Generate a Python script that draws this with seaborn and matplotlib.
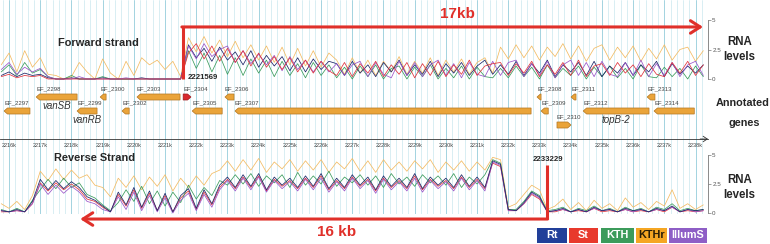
import numpy as np
import pandas as pd
import matplotlib
matplotlib.use("Agg")
import matplotlib.pyplot as plt
from matplotlib.patches import Polygon, Rectangle
import seaborn as sns

# ---- data -------------------------------------------------------------
# genomic window shown (kb) and 250 bp bins of the coverage tracks
KB0, KB1 = 2215.71, 2238.40
bins_kb = np.linspace(2215.75, 2238.25, 91)

samples = ["Rt", "St", "KTH", "KTHr", "IllumS"]
fwd_start, rev_start = 2221.569, 2233.229

# forward strand RNA levels
fwd_rt = [0.3, 0.6, 0.2, 0.5, 0.3, 0.4, 0.1, 0.0, 0.0, 0.1, 0.0, 0.0, 0.0, 0.1, 0.0, 0.0, 0.0, 0.0, 0.1, 0.0, 0.0, 0.0, 0.0, 0.0,
          2.9, 1.8, 2.6, 1.5, 2.7, 1.6, 2.3, 1.2, 2.4, 1.0, 2.0, 1.1, 1.9, 0.7, 1.8, 0.6, 1.7, 0.8, 1.5,
          1.3, 0.3, 1.5, 0.5, 1.2, 0.2, 1.4, 0.6, 1.6, 0.3, 1.2, 0.4, 1.5, 0.2, 1.3, 0.5, 1.4, 0.3, 1.1, 1.6, 0.4,
          1.2, 0.4, 1.5, 0.3, 1.3, 0.5, 1.6, 0.2, 1.2, 0.6, 1.4, 0.3, 1.5, 0.2, 1.1, 0.5, 1.4, 0.3, 1.2, 0.6, 1.5, 0.2, 1.3, 0.4, 1.1, 0.5, 1.2]
fwd_st = [0.2, 0.4, 0.1, 0.3, 0.2, 0.3, 0.0, 0.0, 0.0, 0.0, 0.0, 0.0, 0.0, 0.0, 0.0, 0.0, 0.0, 0.0, 0.0, 0.0, 0.0, 0.0, 0.0, 0.0,
          2.2, 3.0, 1.7, 2.8, 1.5, 2.6, 1.4, 2.4, 1.1, 2.2, 1.0, 1.9, 0.8, 1.8, 0.6, 1.6, 0.5, 1.5, 0.7,
          0.3, 1.4, 0.2, 1.3, 0.5, 1.5, 0.2, 1.2, 0.4, 1.4, 0.1, 1.3, 0.3, 1.5, 0.2, 1.2, 0.4, 1.6, 0.3, 1.1, 1.3,
          1.4, 0.3, 1.3, 0.5, 1.5, 0.2, 1.2, 0.4, 1.4, 0.3, 1.6, 0.2, 1.1, 1.3, 0.3, 1.4, 0.5, 1.2, 0.2, 1.3, 0.4, 0.2, 1.4, 0.5, 1.5, 0.3, 1.2]
fwd_kth = [0.6, 1.2, 0.3, 1.4, 0.5, 0.8, 0.2, 0.0, 0.0, 0.3, 0.0, 0.0, 0.0, 0.2, 0.0, 0.0, 0.0, 0.0, 0.0, 0.0, 0.0, 0.0, 0.0, 0.0,
           2.4, 0.9, 2.2, 0.6, 2.0, 0.4, 1.8, 0.3, 1.7, 0.5, 1.6, 0.2, 1.5, 0.3, 1.3, 0.1, 1.4, 0.3, 1.2,
           0.1, 1.0, 0.0, 1.1, 0.2, 1.2, 0.0, 0.9, 1.1, 0.0, 1.0, 0.2, 1.2, 0.0, 0.9, 0.1, 1.1, 0.0, 1.0, 0.2, 0.1,
           0.9, 0.1, 1.1, 0.2, 1.0, 0.0, 1.2, 0.1, 0.9, 0.3, 1.1, 0.0, 1.0, 0.2, 1.1, 0.1, 0.9, 0.0, 1.2, 0.2, 0.1, 1.0, 0.2, 0.9, 0.0, 1.1, 0.2]
fwd_kthr = [1.2, 2.2, 0.6, 2.4, 1.0, 1.8, 0.4, 0.3, 0.0, 0.2, 1.4, 0.6, 0.0, 1.7, 0.5, 0.0, 1.5, 0.3, 1.8, 1.2, 1.6, 0.8, 1.5, 0.2,
            3.5, 2.3, 3.6, 2.2, 3.3, 1.9, 3.2, 1.8, 2.9, 1.6, 2.8, 1.4, 2.7, 1.2, 2.6, 1.1, 2.4, 1.0, 2.2,
            1.6, 0.4, 1.8, 0.5, 1.6, 0.3, 1.5, 0.6, 1.9, 0.4, 1.5, 0.5, 1.8, 0.3, 1.6, 0.6, 1.7, 0.4, 1.4, 1.8, 0.5,
            2.7, 1.7, 2.9, 1.8, 2.8, 1.6, 2.7, 1.9, 3.0, 1.7, 2.8, 1.5, 2.6, 2.9, 1.6, 2.7, 1.8, 2.8, 1.5, 2.6, 1.7, 2.9, 1.6, 2.5, 2.7, 1.5, 2.4]
fwd_illums = [0.8, 1.4, 0.4, 1.0, 0.6, 0.9, 0.2, 0.0, 0.0, 0.0, 0.2, 0.0, 0.0, 0.0, 0.0, 0.0, 0.1, 0.0, 0.0, 0.0, 0.0, 0.0, 0.0, 0.0,
              2.8, 1.7, 3.0, 1.9, 2.5, 2.8, 1.4, 2.4, 1.3, 2.1, 1.2, 2.0, 0.7, 1.9, 0.8, 1.6, 0.6, 1.5, 0.6,
              1.3, 0.3, 1.2, 1.5, 0.2, 1.4, 0.4, 0.1, 1.5, 0.3, 1.4, 0.2, 1.2, 1.6, 0.3, 1.3, 0.1, 1.4, 0.4, 0.2, 1.5,
              0.3, 1.4, 1.6, 0.2, 1.3, 0.3, 1.5, 0.1, 1.2, 1.6, 0.3, 1.4, 0.2, 1.5, 0.4, 0.2, 1.4, 0.3, 1.6, 0.2, 1.3, 0.3, 1.4, 0.2, 1.2, 1.5, 0.3]

# reverse strand RNA levels
rev_rt = [0.2, 0.1, 0.3, 0.1, 1.0,
          2.9, 2.0, 2.8, 2.1, 2.7, 2.2, 1.4, 1.1, 0.6, 0.1,
          1.8, 0.7, 2.2, 0.5, 1.9, 0.2, 1.7, 0.1, 1.5, 2.1, 0.4, 2.0, 0.8, 2.4,
          3.1, 2.2, 3.3, 2.3, 3.4, 2.0, 3.1, 2.4, 3.0, 2.2, 3.2, 2.3, 3.4, 2.1, 3.0, 2.2, 3.3,
          2.4, 3.1, 2.0, 3.2, 2.3, 3.0, 2.2, 3.4, 2.1, 3.1, 2.4, 3.0, 2.2, 3.3, 2.3, 3.1, 2.2,
          4.5, 4.2, 0.3, 0.2, 0.9, 1.8, 1.4, 0.1,
          0.2, 0.4, 0.1, 0.3, 0.1, 0.5, 0.2, 0.3, 0.1, 0.4, 0.2, 0.3, 0.1, 0.4, 0.2, 0.6, 0.1, 0.3, 0.2, 0.3]
rev_st = [0.1, 0.1, 0.2, 0.1, 0.8,
          2.6, 1.9, 2.6, 2.0, 2.5, 2.0, 1.2, 1.0, 0.5, 0.1,
          1.6, 0.6, 2.0, 0.4, 1.7, 0.2, 1.5, 0.1, 1.3, 1.9, 0.3, 1.8, 0.7, 2.2,
          2.9, 2.1, 3.1, 2.2, 3.2, 1.9, 2.9, 2.3, 2.8, 2.1, 3.0, 2.2, 3.2, 2.0, 2.8, 2.1, 3.1,
          2.3, 2.9, 1.9, 3.0, 2.2, 2.8, 2.1, 3.2, 2.0, 2.9, 2.3, 2.8, 2.1, 3.1, 2.2, 2.9, 2.1,
          4.3, 4.0, 0.2, 0.2, 0.8, 1.6, 1.2, 0.1,
          0.1, 0.3, 0.1, 0.2, 0.1, 0.4, 0.1, 0.2, 0.1, 0.3, 0.1, 0.2, 0.1, 0.3, 0.1, 0.5, 0.1, 0.2, 0.1, 0.2]
rev_kth = [0.3, 0.1, 0.4, 0.1, 1.1,
           2.0, 2.9, 2.1, 3.0, 2.2, 2.6, 1.6, 1.3, 0.7, 0.2,
           0.9, 2.0, 1.0, 2.3, 0.8, 1.9, 0.6, 1.8, 0.9, 2.4, 1.2, 2.2, 1.5, 2.8,
           2.4, 3.3, 2.5, 3.4, 2.3, 3.2, 2.6, 3.3, 2.2, 3.5, 2.4, 3.2, 2.5, 3.6, 2.3, 3.1, 2.6,
           3.3, 2.4, 3.2, 2.2, 3.4, 2.5, 3.1, 2.3, 3.3, 2.6, 3.2, 2.4, 3.4, 2.2, 3.1, 2.5, 3.3,
           4.6, 4.3, 0.3, 0.3, 1.0, 1.9, 1.5, 0.2,
           0.3, 0.5, 0.1, 0.4, 0.2, 0.6, 0.2, 0.4, 0.1, 0.5, 0.2, 0.4, 0.1, 0.5, 0.3, 0.8, 0.2, 0.4, 0.2, 0.3]
rev_kthr = [0.8, 0.4, 1.0, 0.3, 1.5,
            3.6, 2.8, 3.8, 2.9, 3.7, 3.0, 3.3, 2.4, 2.2, 1.4,
            3.0, 2.2, 3.2, 2.0, 3.1, 2.3, 3.3, 1.9, 3.0, 2.2, 3.2, 2.4, 3.4, 3.7,
            4.5, 3.6, 4.6, 3.7, 4.7, 3.5, 4.4, 3.8, 4.6, 3.6, 4.5, 3.7, 4.6, 3.5, 4.4, 3.8, 4.7,
            3.6, 4.5, 3.5, 4.6, 3.7, 4.4, 3.6, 4.5, 3.8, 4.6, 3.5, 4.4, 3.7, 4.5, 3.6, 4.4, 3.7,
            4.8, 4.6, 0.5, 0.8, 1.6, 2.4, 2.0, 0.3,
            0.6, 1.2, 0.3, 0.9, 0.2, 1.1, 0.4, 0.8, 0.2, 1.3, 0.5, 0.9, 0.3, 1.0, 0.6, 2.0, 0.4, 0.8, 0.3, 0.7]
rev_illums = [0.2, 0.1, 0.2, 0.1, 0.8,
              2.5, 1.6, 2.4, 1.7, 2.3, 1.8, 1.0, 0.8, 0.3, 0.1,
              1.4, 0.3, 1.8, 0.2, 1.5, 0.1, 1.3, 0.0, 1.1, 1.7, 0.2, 1.6, 0.5, 2.0,
              2.8, 1.9, 3.0, 2.0, 3.1, 1.8, 2.8, 2.1, 2.7, 1.9, 2.9, 2.0, 3.0, 1.8, 2.7, 1.9, 3.0,
              2.1, 2.8, 1.7, 2.9, 2.0, 2.7, 1.9, 3.0, 1.8, 2.8, 2.1, 2.7, 1.9, 3.0, 2.0, 2.8, 1.9,
              4.4, 4.1, 0.2, 0.2, 0.8, 1.7, 1.3, 0.1,
              0.2, 0.3, 0.1, 0.3, 0.1, 0.4, 0.2, 0.3, 0.1, 0.3, 0.1, 0.3, 0.1, 0.3, 0.2, 0.5, 0.1, 0.3, 0.1, 0.2]

# annotated genes (kb), strand and display row
gene_names = ["EF_2298", "EF_2300", "EF_2303", "EF_2304", "EF_2306", "EF_2308", "EF_2311", "EF_2313",
              "EF_2297", "EF_2299", "EF_2302", "EF_2305", "EF_2307", "EF_2309", "EF_2312", "EF_2314",
              "EF_2310"]
gene_start = [2216.87, 2218.92, 2220.10, 2221.58, 2222.92, 2232.92, 2234.01, 2236.45,
              2215.84, 2218.18, 2219.62, 2221.87, 2223.24, 2233.05, 2234.40, 2236.67,
              2233.56]
gene_end = [2218.18, 2219.11, 2221.48, 2221.83, 2223.21, 2233.05, 2234.17, 2236.70,
            2216.67, 2218.82, 2219.85, 2222.83, 2232.73, 2233.28, 2236.51, 2237.96,
            2234.01]
gene_strand = [-1, -1, -1, 1, -1, -1, -1, -1,
               -1, -1, -1, -1, -1, -1, -1, -1,
               1]
gene_row = [1, 1, 1, 1, 1, 1, 1, 1,
            2, 2, 2, 2, 2, 2, 2, 2,
            3]
highlight_gene = "EF_2304"
gene_symbols = {"EF_2298": "vanSB", "EF_2299": "vanRB", "EF_2312": "topB-2"}

# ---- style ------------------------------------------------------------
sns.set_style("white")
plt.rcParams["font.family"] = ["Liberation Sans", "DejaVu Sans"]

line_colors = {"Rt": "#1c2466", "St": "#e0323c", "KTH": "#3a9b5c", "KTHr": "#f3bb62", "IllumS": "#9a55c8"}
box_colors = {"Rt": "#213f99", "St": "#e8392c", "KTH": "#3c9b5b", "KTHr": "#f5a623", "IllumS": "#8e5ec6"}
RED = "#e0302a"
GENE = "#eaa43a"

W, H = 770, 244
fig = plt.figure(figsize=(W / 100, H / 100), dpi=100)


def px_axes(x0, y0, x1, y1):
    return fig.add_axes([x0 / W, 1 - y1 / H, (x1 - x0) / W, (y1 - y0) / H])


def track_frame(series):
    parts = []
    for name, vals in zip(samples, series):
        assert len(vals) == len(bins_kb), name
        parts.append(pd.DataFrame({"kb": bins_kb, "level": vals, "sample": name}))
    return pd.concat(parts, ignore_index=True)


fwd_df = track_frame([fwd_rt, fwd_st, fwd_kth, fwd_kthr, fwd_illums])
rev_df = track_frame([rev_rt, rev_st, rev_kth, rev_kthr, rev_illums])

# background grid
ax_bg = px_axes(0, 0, 708, 214)
ax_bg.set_xlim(KB0, KB1)
ax_bg.set_xticks(np.arange(2216, 2239, 1.0))
ax_bg.set_xticks(np.arange(2215.8, 2238.4, 0.2), minor=True)
ax_bg.grid(True, which="minor", axis="x", color="#c9e7ef", lw=0.5)
ax_bg.grid(True, which="major", axis="x", color="#a3d3e0", lw=0.7)
ax_bg.tick_params(which="both", length=0, labelbottom=False, labelleft=False)
ax_bg.set_yticks([])
for s in ax_bg.spines.values():
    s.set_visible(False)


def style_track(ax):
    ax.set_xlim(KB0, KB1)
    ax.set_ylim(0, 5)
    ax.patch.set_alpha(0)
    for side in ["top", "left", "bottom"]:
        ax.spines[side].set_visible(False)
    ax.spines["right"].set_color("#777777")
    ax.spines["right"].set_linewidth(0.6)
    ax.yaxis.tick_right()
    ax.set_yticks([0, 2.5, 5])
    ax.set_yticklabels(["0", "2.5", "5"])
    ax.tick_params(axis="y", length=2, width=0.5, pad=1, labelsize=4.5, labelcolor="#555555", color="#777777")
    ax.set_xticks([])
    ax.set_xlabel("")
    ax.set_ylabel("")
    for ln in ax.lines:
        ln.set_clip_on(False)


# forward strand
ax_f = px_axes(0, 20, 708, 79)
sns.lineplot(data=fwd_df, x="kb", y="level", hue="sample",
             hue_order=["KTHr", "KTH", "Rt", "IllumS", "St"], palette=line_colors,
             estimator=None, linewidth=0.55, legend=False, ax=ax_f)
style_track(ax_f)
ax_f.plot([fwd_start, fwd_start], [0, 4.41], color=RED, lw=2.2, solid_capstyle="butt", clip_on=False)
ax_f.annotate("", xy=(2238.24, 4.41), xytext=(fwd_start - 0.03, 4.41),
              arrowprops=dict(arrowstyle="->,head_length=0.7,head_width=0.45", color=RED, lw=2.2,
                              shrinkA=0, shrinkB=0), annotation_clip=False)
ax_f.text(fwd_start + 0.17, 0.15, str(int(round(fwd_start * 1000))), fontsize=5.6, fontweight="bold",
          va="center", ha="left")

# reverse strand
ax_r = px_axes(0, 155, 708, 213)
sns.lineplot(data=rev_df, x="kb", y="level", hue="sample",
             hue_order=["KTHr", "St", "KTH", "IllumS", "Rt"], palette=line_colors,
             estimator=None, linewidth=0.55, legend=False, ax=ax_r)
style_track(ax_r)
ax_r.plot([rev_start, rev_start], [4.14, -0.52], color=RED, lw=2.2, solid_capstyle="butt", clip_on=False)
ax_r.annotate("", xy=(2218.28, -0.52), xytext=(rev_start + 0.03, -0.52),
              arrowprops=dict(arrowstyle="->,head_length=0.7,head_width=0.45", color=RED, lw=2.2,
                              shrinkA=0, shrinkB=0), annotation_clip=False)
ax_r.text(rev_start + 0.05, 4.57, str(int(round(rev_start * 1000))), fontsize=5.6, fontweight="bold",
          va="center", ha="center")

# annotated genes + coordinate ruler
ax_g = px_axes(0, 83, 708, 153)
ax_g.set_xlim(KB0, KB1)
ax_g.set_ylim(5, 0)
ax_g.patch.set_alpha(0)
head = 0.11
h = 0.43
for name, st, en, sd, row in zip(gene_names, gene_start, gene_end, gene_strand, gene_row):
    hd = min(head, en - st)
    y0, y1 = row - h / 2, row + h / 2
    if sd < 0:
        pts = [(st, row), (st + hd, y0), (en, y0), (en, y1), (st + hd, y1)]
    else:
        pts = [(en, row), (en - hd, y0), (st, y0), (st, y1), (en - hd, y1)]
    fc = "#d92a2e" if name == highlight_gene else GENE
    ec = "#9c1a1d" if name == highlight_gene else "#b27622"
    ax_g.add_patch(Polygon(pts, closed=True, fc=fc, ec=ec, lw=0.5))
    ax_g.text(st, row - 0.55, name, fontsize=4.3, color="#444444", ha="left", va="center")
    if name in gene_symbols:
        ax_g.text((st + en) / 2, row + 0.65, gene_symbols[name], fontsize=7, style="italic",
                  color="#333333", ha="center", va="center")

for side in ["top", "left", "right"]:
    ax_g.spines[side].set_visible(False)
ax_g.spines["bottom"].set_position(("data", 4))
ax_g.spines["bottom"].set_color("#333333")
ax_g.spines["bottom"].set_linewidth(0.6)
major = np.arange(2216, 2239)
ax_g.set_xticks(major)
ax_g.set_xticklabels([f"{k}k" for k in major])
ax_g.set_xticks(np.arange(2215.8, 2238.4, 0.1), minor=True)
ax_g.tick_params(axis="x", which="major", direction="inout", length=4, width=0.5, pad=1,
                 labelsize=4, labelcolor="#444444", color="#333333")
ax_g.tick_params(axis="x", which="minor", direction="inout", length=2, width=0.4, color="#333333")
ax_g.set_yticks([])
ax_g.annotate("", xy=(KB1, 4), xytext=(KB1 - 0.25, 4),
              arrowprops=dict(arrowstyle="->,head_length=0.3,head_width=0.2", color="#333333", lw=0.6,
                              shrinkA=0, shrinkB=0), annotation_clip=False)

# ---- text labels and legend (pixel overlay) ---------------------------
ax_o = px_axes(0, 0, W, H)
ax_o.set_xlim(0, W)
ax_o.set_ylim(H, 0)
ax_o.axis("off")
ax_o.patch.set_alpha(0)

ax_o.text(98, 43, "Forward strand", fontsize=7.9, fontweight="bold", ha="center", va="center")
ax_o.text(95, 158, "Reverse Strand", fontsize=7.9, fontweight="bold", ha="center", va="center")
ax_o.text(457, 14, "17kb", fontsize=11, fontweight="bold", color=RED, ha="center", va="center")
ax_o.text(337, 232, "16 kb", fontsize=11, fontweight="bold", color=RED, ha="center", va="center")
for yc in (42, 180):
    ax_o.text(740, yc, "RNA", fontsize=8.3, fontweight="bold", ha="center", va="center")
    ax_o.text(739, yc + 15, "levels", fontsize=8.3, fontweight="bold", ha="center", va="center")
ax_o.text(743, 103, "Annotated", fontsize=7.8, fontweight="bold", ha="center", va="center")
ax_o.text(744, 123, "genes", fontsize=7.8, fontweight="bold", ha="center", va="center")

legend_spans = [(537, 567), (569, 598), (601, 634), (636, 667), (669, 707)]
for name, (x0, x1) in zip(samples, legend_spans):
    ax_o.add_patch(Rectangle((x0, 228), x1 - x0, 15, fc=box_colors[name], ec="none"))
    tc = "#2a1d05" if name == "KTHr" else "white"
    ax_o.text((x0 + x1) / 2, 235.5, name, fontsize=7.8, fontweight="bold", color=tc, ha="center", va="center")

fig.savefig("out.png", dpi=100)
plt.close(fig)
